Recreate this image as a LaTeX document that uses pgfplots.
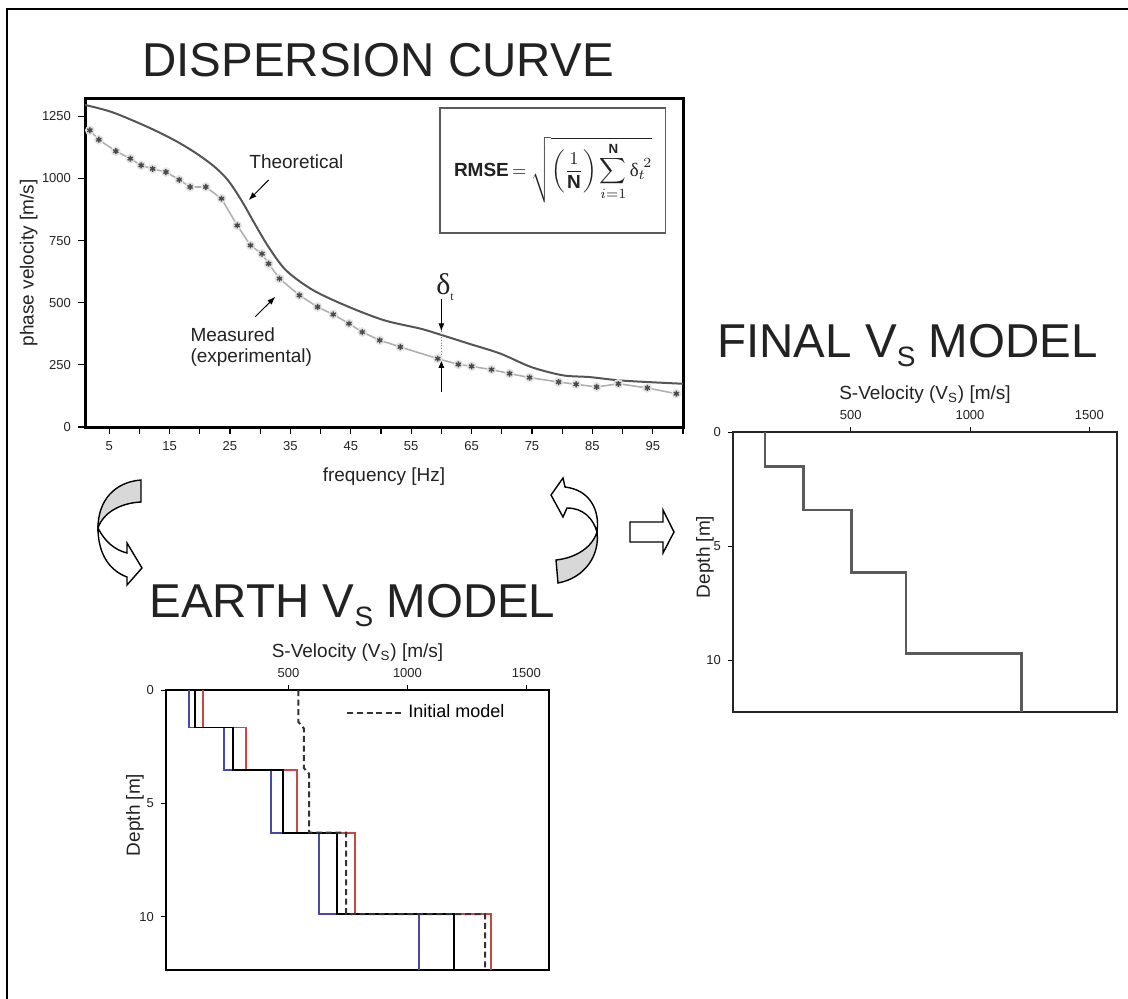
\documentclass[border=0pt]{standalone}
\usepackage{amsmath}
\usepackage{fontspec}
\setmainfont{Liberation Sans}
\newfontfamily\tms{Liberation Serif}
\usepackage{pgfplots}
\pgfplotsset{compat=1.18}
\usetikzlibrary{arrows.meta}

\definecolor{txt}{HTML}{222222}
\definecolor{theo}{HTML}{555555}
\definecolor{meas}{HTML}{B0B0B0}
\definecolor{star}{HTML}{4A4A4A}
\definecolor{halo}{HTML}{E4E4E4}
\definecolor{eblue}{HTML}{4848A8}
\definecolor{ered}{HTML}{C84848}
\definecolor{arrowgray}{HTML}{D8D8D8}
\definecolor{finalc}{HTML}{5A5A5A}

\begin{document}
\begin{tikzpicture}
\begin{scope}[x=0.5pt,y=-0.5pt]
\useasboundingbox (0,0) rectangle (1128,999);
\draw[line width=1pt] (7,999) -- (7,9) -- (1128,9);
% titles
\node[anchor=base, font=\fontsize{23.75}{28}\selectfont, text=txt, inner sep=0pt] at (378,77) {DISPERSION CURVE};
\node[anchor=base, font=\fontsize{23.75}{28}\selectfont, text=txt, inner sep=0pt] at (352.5,617) {EARTH V\raisebox{-4.5pt}{\fontsize{14}{14}\selectfont S} MODEL};
\node[anchor=base, font=\fontsize{23.75}{28}\selectfont, text=txt, inner sep=0pt] at (907.5,358) {FINAL V\raisebox{-4.5pt}{\fontsize{14}{14}\selectfont S} MODEL};
% left curved arrow
\filldraw[fill=arrowgray, draw=black, line width=0.7pt] (141,480) .. controls (115,482) and (98,500) .. (98,528) .. controls (103,513) and (120,503) .. (141,502) -- cycle;
\filldraw[fill=white, draw=black, line width=0.7pt] (98,528) .. controls (105,542) and (115,550) .. (127,553) -- (127,543) -- (142,568) -- (127,585) -- (127,577) .. controls (108,570) and (98,552) .. (98,528) -- cycle;
% right curved arrow
\filldraw[fill=arrowgray, draw=black, line width=0.7pt] (556,560) .. controls (575,558) and (592,548) .. (597,532) .. controls (600,555) and (585,578) .. (558,583) -- cycle;
\filldraw[fill=white, draw=black, line width=0.7pt] (597,532) .. controls (600,510) and (590,490) .. (565,487) -- (563,478) -- (551,495) -- (563,517) -- (567,508) .. controls (583,508) and (593,518) .. (597,532) -- cycle;
% block arrow
\filldraw[fill=white, draw=black, line width=0.7pt] (630,522) -- (663,522) -- (663,510) -- (674,532) -- (663,553) -- (663,542) -- (630,542) -- cycle;
\end{scope}

% ---------------- Dispersion curve ----------------
\begin{axis}[
  at={(42.5pt,-213.5pt)}, anchor=south west,
  scale only axis, width=299pt, height=164pt,
  xmin=1, xmax=100, ymin=0, ymax=1320,
  axis line style={line width=1.5pt, black},
  xtick={5,10,...,100},
  xticklabels={5,,15,,25,,35,,45,,55,,65,,75,,85,,95,},
  ytick={0,250,...,1250},
  tick align=outside, tick pos=left,
  major tick length=3.5pt,
  tick style={line width=0.6pt, black},
  tick label style={font=\fontsize{6.5}{7}\selectfont, text=txt},
  /pgf/number format/assume math mode=true,
  /pgf/number format/1000 sep={},
  xlabel={frequency [Hz]}, ylabel={phase velocity [m/s]},
  label style={font=\fontsize{9.5}{11}\selectfont, text=txt},
  xlabel style={at={(axis description cs:0.5,-0.152)}, anchor=center},
  ylabel style={at={(axis description cs:-0.094,0.5)}, anchor=center},
  clip=false,
]
\addplot[draw=none, only marks, mark=*, mark size=2.2pt, mark options={fill=halo, draw=halo}] coordinates {
(1.8,1194)(3.3,1156)(6.1,1110)(8.5,1080)(10.3,1053)(12.2,1039)(14.4,1026)(16.6,995)(18.4,966)(21.0,966)(23.6,919)(26.2,811)(28.4,731)(30.3,697)(31.4,657)(33.2,597)(36.5,530)(39.5,483)(42.1,453)(44.7,416)(46.9,382)(49.8,349)(53.2,322)(59.4,275)(62.8,252)(65.0,244)(68.3,231)(71.3,215)(74.6,199)(79.4,181)(82.3,172)(85.7,161)(89.3,174)(94.1,157)(98.9,134)};
\addplot[meas, line width=0.8pt, mark=asterisk, mark size=1.5pt, mark options={star, line width=0.7pt}] coordinates {
(1.8,1194)(3.3,1156)(6.1,1110)(8.5,1080)(10.3,1053)(12.2,1039)(14.4,1026)(16.6,995)(18.4,966)(21.0,966)(23.6,919)(26.2,811)(28.4,731)(30.3,697)(31.4,657)(33.2,597)(36.5,530)(39.5,483)(42.1,453)(44.7,416)(46.9,382)(49.8,349)(53.2,322)(59.4,275)(62.8,252)(65.0,244)(68.3,231)(71.3,215)(74.6,199)(79.4,181)(82.3,172)(85.7,161)(89.3,174)(94.1,157)(98.9,134)};
\addplot[theo, line width=1pt, smooth] coordinates {
(1,1296)(5.5,1267)(11.4,1207)(15.9,1153)(19.5,1100)(22.5,1046)(24.7,992)(26.9,912)(29.1,818)(31.4,724)(34.3,630)(38.8,550)(44.7,483)(50.6,429)(56.5,396)(59.4,375)(64.6,335)(69.8,295)(74.9,241)(80.1,208)(84.5,201)(89.3,188)(94.1,181)(100,174)};
% annotations
\node[font=\fontsize{9.5}{11}\selectfont, text=txt] at (36,1068) {Theoretical};
\draw[-{Latex[length=4pt,width=3pt]}, line width=0.5pt] (31.4,994) -- (28.1,913);
\node[font=\fontsize{9.5}{10.5}\selectfont, text=txt, align=left, anchor=west, inner sep=0pt] at (18.4,320) {Measured\\(experimental)};
\draw[-{Latex[length=4pt,width=3pt]}, line width=0.5pt] (29.2,444) -- (32.5,524);
\node[font=\fontsize{15}{17}\selectfont\tms, text=txt, inner sep=0pt] at (60.6,565) {δ\raisebox{-3pt}{\fontsize{6}{6}\selectfont t}};
\draw[-{Latex[length=4pt,width=3pt]}, line width=0.5pt] (60,515) -- (60,385);
\draw[densely dotted, gray, line width=0.4pt] (60,385) -- (60,275);
\draw[-{Latex[length=4pt,width=3pt]}, line width=0.5pt] (60,140) -- (60,270);
\draw[line width=0.8pt, gray!70!black] (59.8,781) rectangle (97.1,1284);
\node[font=\fontsize{9.5}{11}\selectfont, text=txt, inner sep=0pt] at (78.5,1034) {\textbf{RMSE}\,$=\sqrt{\left(\dfrac{1}{\textbf{N}}\right)\displaystyle\sum_{i=1}^{\textbf{N}}\text{\tms δ}_{t}^{\;2}}$};
\end{axis}

% ---------------- Earth Vs model ----------------
\begin{axis}[
  at={(83pt,-485pt)}, anchor=south west,
  scale only axis, width=191.5pt, height=140pt,
  xmin=-15, xmax=1595, ymin=0, ymax=12.35, y dir=reverse,
  xtick={500,1000,1500}, ytick={0,5,10},
  xtick pos=right, xticklabel pos=right, ytick pos=left,
  tick align=outside, major tick length=2.5pt,
  tick style={line width=0.5pt, black},
  axis line style={line width=1pt, black},
  tick label style={font=\fontsize{6.5}{7}\selectfont, text=txt},
  /pgf/number format/assume math mode=true,
  /pgf/number format/1000 sep={},
  xlabel={S-Velocity (V\textsubscript{S}) [m/s]}, ylabel={Depth [m]},
  label style={font=\fontsize{9.5}{11}\selectfont, text=txt},
  xlabel style={yshift=-3pt},
  ylabel style={at={(axis description cs:-0.081,0.554)}, anchor=center},
  legend style={at={(axis description cs:0.47,0.918)}, anchor=west, draw=none, fill=none, font=\fontsize{9}{10}\selectfont, inner sep=0pt},
  legend image code/.code={\draw[#1] (0pt,0pt) -- (28pt,0pt);},
]
\addplot[eblue, line width=0.9pt, forget plot] coordinates {(83,0)(83,1.65)(229,1.65)(229,3.53)(425,3.53)(425,6.29)(629,6.29)(629,9.88)(1050,9.88)(1050,12.35)};
\addplot[ered, line width=0.9pt, forget plot] coordinates {(142,0)(142,1.65)(321,1.65)(321,3.53)(534,3.53)(534,6.29)(779,6.29)(779,9.88)(1350,9.88)(1350,12.35)};
\addplot[black, line width=0.9pt, forget plot] coordinates {(107,0)(107,1.65)(268,1.65)(268,3.53)(478,3.53)(478,6.29)(705,6.29)(705,9.88)(1197,9.88)(1197,12.35)};
\addplot[black!80, line width=1pt, dash pattern=on 3pt off 1.8pt] coordinates {(541,0)(541,1.4)(565,1.7)(565,3.45)(587,3.7)(587,6.29)(742,6.29)(742,9.88)(1326,9.88)(1326,12.35)};
\addlegendentry{Initial model}
\end{axis}

% ---------------- Final Vs model ----------------
\begin{axis}[
  at={(366.5pt,-356pt)}, anchor=south west,
  scale only axis, width=192pt, height=140pt,
  xmin=7, xmax=1616, ymin=0, ymax=12.27, y dir=reverse,
  xtick={500,1000,1500}, ytick={0,5,10},
  xtick pos=right, xticklabel pos=right, ytick pos=left,
  tick align=outside, major tick length=2.5pt,
  tick style={line width=0.5pt, black},
  axis line style={line width=1.1pt, black!85},
  tick label style={font=\fontsize{6.5}{7}\selectfont, text=txt},
  /pgf/number format/assume math mode=true,
  /pgf/number format/1000 sep={},
  xlabel={S-Velocity (V\textsubscript{S}) [m/s]}, ylabel={Depth [m]},
  label style={font=\fontsize{9.5}{11}\selectfont, text=txt},
  xlabel style={yshift=-3pt},
  ylabel style={at={(axis description cs:-0.073,0.554)}, anchor=center},
]
\addplot[finalc, line width=1.4pt] coordinates {(141,0)(141,1.52)(302,1.52)(302,3.42)(504,3.42)(504,6.15)(732,6.15)(732,9.71)(1217,9.71)(1217,12.27)};
\end{axis}
\end{tikzpicture}
\end{document}
